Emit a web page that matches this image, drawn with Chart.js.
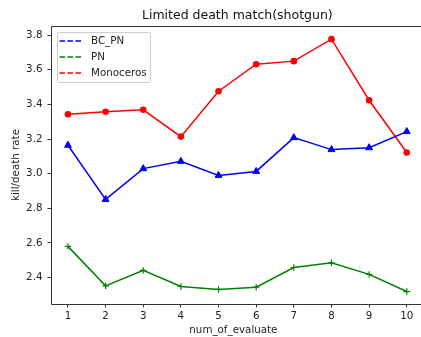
<!DOCTYPE html>
<html>
<head>
<meta charset="utf-8">
<script src="https://cdn.jsdelivr.net/npm/chart.js@4.4.0/dist/chart.umd.min.js"></script>
<style>
  html, body { margin: 0; padding: 0; background: #fff; overflow: hidden; }
  #wrap { width: 421px; height: 337px; }
</style>
</head>
<body>
<div id="wrap"><canvas id="chart" width="421" height="337"></canvas></div>
<script>
// values
const evals = [1, 2, 3, 4, 5, 6, 7, 8, 9, 10];
const bcPn = [3.164, 2.851, 3.029, 3.071, 2.990, 3.013, 3.208, 3.139, 3.150, 3.243];
const pn = [2.580, 2.352, 2.441, 2.348, 2.331, 2.344, 2.458, 2.485, 2.418, 2.319];
const monoceros = [3.343, 3.358, 3.369, 3.214, 3.476, 3.632, 3.650, 3.777, 3.424, 3.122];
const yTicks = [2.4, 2.6, 2.8, 3.0, 3.2, 3.4, 3.6, 3.8];
const legendNames = ["BC_PN", "PN", "Monoceros"];
const legendColors = ["#0000ff", "#008000", "#ff0000"];
const chartTitle = "Limited death match(shotgun)";

const FONT = "'DejaVu Sans', sans-serif";
const SMALL = 10.3;

const toPoints = (vals) => vals.map((v, i) => ({ x: evals[i], y: v }));

// the reference image is cut off on the right: the axes run to the canvas
// edge and their right spine is not visible
const framePlugin = {
  id: "frame",
  afterDraw(chart) {
    const { ctx, chartArea: a, scales } = chart;
    ctx.save();
    ctx.strokeStyle = "#333";
    ctx.lineWidth = 1;
    ctx.beginPath();
    ctx.moveTo(chart.width, a.top + 0.5);
    ctx.lineTo(a.left + 0.5, a.top + 0.5);
    ctx.lineTo(a.left + 0.5, a.bottom + 0.5);
    ctx.lineTo(chart.width, a.bottom + 0.5);
    ctx.stroke();
    // title centred over the full (uncropped) axes, i.e. x = 5.5
    ctx.fillStyle = "#111";
    ctx.font = "12.5px " + FONT;
    ctx.textAlign = "center";
    ctx.textBaseline = "middle";
    ctx.fillText(chartTitle, scales.x.getPixelForValue(5.5), 16);
    ctx.restore();
  }
};

// legend drawn inside the plot, top left, with dashed handles
const innerLegend = {
  id: "innerLegend",
  afterDatasetsDraw(chart) {
    const { ctx, chartArea: a } = chart;
    const x = a.left + 6, y = a.top + 6, w = 93, h = 50;
    ctx.save();
    ctx.fillStyle = "rgba(255,255,255,0.8)";
    ctx.strokeStyle = "#cccccc";
    ctx.lineWidth = 1;
    ctx.beginPath();
    ctx.roundRect(x + 0.5, y + 0.5, w, h, 2);
    ctx.fill();
    ctx.stroke();
    ctx.font = SMALL + "px " + FONT;
    ctx.textBaseline = "middle";
    legendNames.forEach((name, i) => {
      const ry = y + 9 + i * 16;
      ctx.strokeStyle = legendColors[i];
      ctx.lineWidth = 1.4;
      ctx.setLineDash([5.5, 2.5]);
      ctx.beginPath();
      ctx.moveTo(x + 2.5, ry);
      ctx.lineTo(x + 25, ry);
      ctx.stroke();
      ctx.setLineDash([]);
      ctx.fillStyle = "#222";
      ctx.fillText(name, x + 34, ry);
    });
    ctx.restore();
  }
};

const ctx = document.getElementById("chart").getContext("2d");
new Chart(ctx, {
  type: "line",
  data: {
    datasets: [
      {
        label: "BC_PN",
        data: toPoints(bcPn),
        borderColor: "#0000ff",
        backgroundColor: "#0000ff",
        borderWidth: 1.5,
        pointStyle: "triangle",
        pointRadius: 4,
        pointBorderWidth: 1
      },
      {
        label: "PN",
        data: toPoints(pn),
        borderColor: "#008000",
        backgroundColor: "#008000",
        borderWidth: 1.5,
        pointStyle: "cross",
        pointRadius: 3.2,
        pointBorderWidth: 1.2
      },
      {
        label: "Monoceros",
        data: toPoints(monoceros),
        borderColor: "#ff0000",
        backgroundColor: "#ff0000",
        borderWidth: 1.5,
        pointStyle: "circle",
        pointRadius: 3.3,
        pointBorderWidth: 0
      }
    ]
  },
  options: {
    responsive: false,
    animation: false,
    layout: { padding: { left: 0, right: 0, top: 26, bottom: 0 } },
    elements: { line: { tension: 0 } },
    plugins: {
      legend: { display: false },
      tooltip: { enabled: false },
      title: { display: false }
    },
    scales: {
      x: {
        type: "linear",
        min: 0.55,
        max: 10.24,
        afterBuildTicks: (scale) => { scale.ticks = evals.map((v) => ({ value: v })); },
        afterFit: (scale) => {
          scale.height = 33;
          scale.paddingLeft = 0;
          scale.paddingRight = 0;
        },
        grid: { drawOnChartArea: false, drawTicks: true, tickLength: 3.5, color: "#333" },
        border: { display: false },
        ticks: {
          color: "#222",
          padding: 3,
          font: { family: FONT, size: SMALL },
          callback: (v) => String(v)
        },
        title: {
          display: true,
          text: "num_of_evaluate",
          color: "#222",
          font: { family: FONT, size: SMALL },
          padding: { top: 1, bottom: 0 }
        }
      },
      y: {
        type: "linear",
        min: 2.247,
        max: 3.853,
        afterBuildTicks: (scale) => { scale.ticks = yTicks.map((v) => ({ value: v })); },
        afterFit: (scale) => {
          scale.width = 51;
          scale.paddingTop = 0;
          scale.paddingBottom = 0;
        },
        grid: { drawOnChartArea: false, drawTicks: true, tickLength: 3.5, color: "#333" },
        border: { display: false },
        ticks: {
          color: "#222",
          padding: 5,
          font: { family: FONT, size: SMALL },
          callback: (v) => Number(v).toFixed(1)
        },
        title: {
          display: true,
          text: "kill/death rate",
          color: "#222",
          font: { family: FONT, size: SMALL },
          padding: { top: 10, bottom: 0 }
        }
      }
    }
  },
  plugins: [framePlugin, innerLegend]
});
</script>
</body>
</html>
